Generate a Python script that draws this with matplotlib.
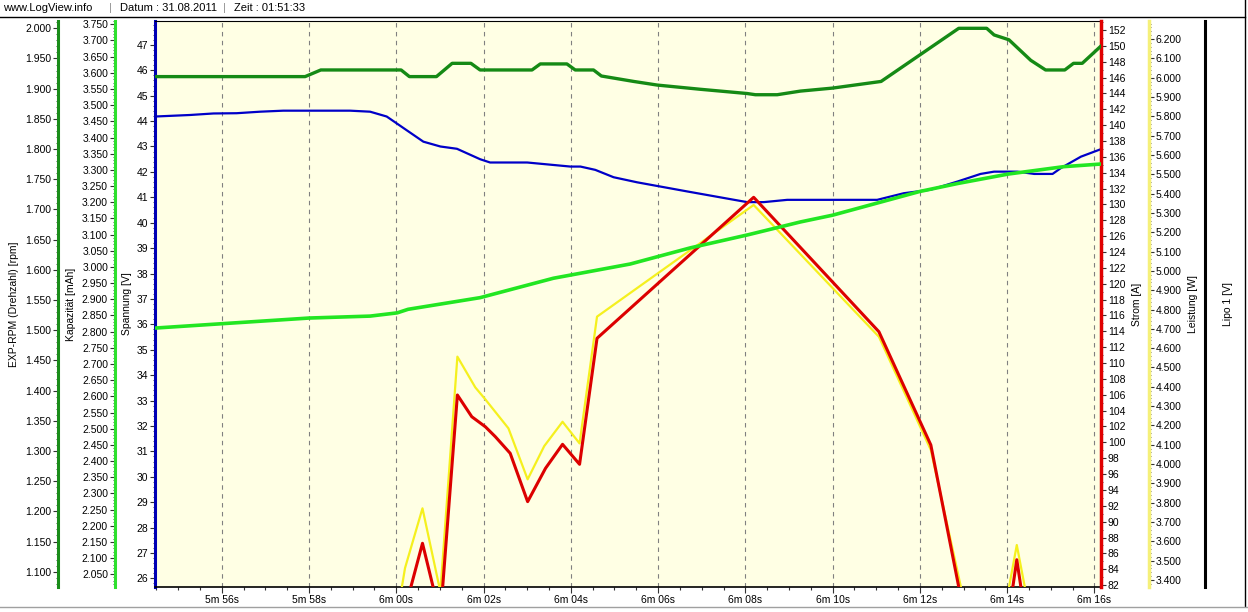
import matplotlib
matplotlib.use("Agg")
import matplotlib.pyplot as plt
from matplotlib.ticker import MultipleLocator, FuncFormatter
from matplotlib.lines import Line2D

plt.rcParams["font.family"] = ["Liberation Sans", "DejaVu Sans"]
plt.rcParams["font.size"] = 7.5

# Zeit in Sekunden (5m 56s = 356 s)
t_rpm = [354.47, 357.91, 358.27, 360.11, 360.30, 360.92, 361.28, 361.71, 361.92, 363.11,
         363.30, 363.91, 364.10, 364.52, 364.70, 365.44, 365.98, 366.97, 368.04, 368.23,
         368.73, 369.26, 370.00, 371.11, 372.89, 373.53, 373.70, 374.04, 374.54, 374.88,
         375.32, 375.52, 375.72, 376.14]
rpm = [1.920, 1.920, 1.931, 1.931, 1.920, 1.920, 1.942, 1.942, 1.931, 1.931,
       1.941, 1.941, 1.931, 1.931, 1.921, 1.912, 1.906, 1.899, 1.892, 1.890,
       1.890, 1.896, 1.901, 1.912, 2.000, 2.000, 1.989, 1.981, 1.947, 1.931,
       1.931, 1.942, 1.942, 1.970]

t_volt = [354.47, 355.27, 355.81, 356.34, 356.88, 357.41, 358.94, 359.40, 359.78, 360.17,
          360.62, 361.01, 361.39, 361.92, 362.15, 363.00, 363.99, 364.22, 364.56, 364.98,
          365.52, 366.67, 368.04, 368.42, 368.96, 371.02, 371.63, 372.25, 372.86, 373.39,
          373.70, 374.23, 374.62, 375.04, 375.23, 375.69, 376.14]
volt = [44.18, 44.24, 44.30, 44.31, 44.37, 44.41, 44.41, 44.37, 44.18, 43.72,
        43.19, 43.00, 42.91, 42.50, 42.37, 42.37, 42.21, 42.21, 42.08, 41.79,
        41.59, 41.23, 40.81, 40.81, 40.90, 40.90, 41.16, 41.30, 41.62, 41.92,
        42.01, 42.01, 41.92, 41.92, 42.15, 42.60, 42.89]

t_kap = [354.47, 358.00, 359.40, 360.02, 360.27, 361.92, 363.60, 365.36, 366.74, 368.05,
         369.26, 370.00, 371.99, 372.87, 374.02, 375.30, 376.14]
kap = [2.811, 2.842, 2.848, 2.858, 2.869, 2.905, 2.965, 3.009, 3.059, 3.099,
       3.139, 3.160, 3.233, 3.258, 3.287, 3.310, 3.318]

t_strom = [354.47, 359.86, 360.20, 360.60, 361.01, 361.40, 361.73, 362.04, 362.27, 362.61,
           363.01, 363.42, 363.81, 364.20, 364.60, 368.19, 371.06, 372.25, 373.05, 373.95,
           374.22, 374.50, 376.14]
strom = [60, 60, 79.0, 87.27, 78.0, 105.97, 103.23, 101.97, 100.71, 98.62,
         92.52, 96.73, 99.75, 97.23, 113.12, 130.90, 113.95, 99.67, 77.3, 75.0,
         85.2, 75.0, 70]

t_leist = [354.47, 359.86, 360.20, 360.60, 361.01, 361.40, 361.81, 362.04, 362.57, 363.01,
           363.39, 363.81, 364.20, 364.60, 368.19, 371.06, 372.25, 373.05, 373.95, 374.22,
           374.50, 376.14]
leist = [3.0, 3.0, 3.462, 3.771, 3.339, 4.556, 4.397, 4.335, 4.185, 3.921,
         4.093, 4.219, 4.107, 4.763, 5.341, 4.659, 4.073, 3.25, 3.25, 3.581,
         3.25, 3.2]

x_ticks = [356, 358, 360, 362, 364, 366, 368, 370, 372, 374, 376]


def fmt_time(v, pos):
    v = int(round(v))
    return f"{v // 60}m {v % 60:02d}s"


W, H = 1248, 612
fig = plt.figure(figsize=(W / 100, H / 100), dpi=100)
fig.patch.set_facecolor("white")
L, R, T, B = 155, 1101, 21, 587
ax = fig.add_axes([L / W, 1 - B / H, (R - L) / W, (B - T) / H])
ax.set_facecolor("#ffffe4")

tick_col = "#333333"


def style_y(a, major, minor, fmt):
    a.yaxis.set_major_locator(MultipleLocator(major))
    a.yaxis.set_minor_locator(MultipleLocator(minor))
    a.yaxis.set_major_formatter(FuncFormatter(lambda v, p: fmt.format(v)))
    a.tick_params(axis="y", which="major", length=3.5, width=0.8, color=tick_col, pad=1.5, labelsize=7.5)
    a.tick_params(axis="y", which="minor", length=1.5, width=0.6, color=tick_col)


def extra_axis(side, pos, color, lw=2.2):
    a = ax.twinx()
    for s in ["top", "bottom", "left", "right"]:
        a.spines[s].set_visible(False)
    a.spines[side].set_visible(True)
    a.spines[side].set_position(("axes", pos))
    a.spines[side].set_color(color)
    a.spines[side].set_linewidth(lw)
    a.yaxis.set_ticks_position(side)
    a.yaxis.set_label_position(side)
    return a


# Spannung (Hauptachse, blau)
ax.set_xlim(354.47, 376.15)
ax.set_ylim(25.66, 47.94)
ax.spines["right"].set_visible(False)
ax.spines["left"].set_color("#0000b4")
ax.spines["left"].set_linewidth(2.2)
ax.spines["top"].set_linewidth(0.8)
ax.spines["bottom"].set_linewidth(1.2)
style_y(ax, 1, 0.2, "{:.0f}")
ax.set_ylabel("Spannung [V]", va="center")
ax.yaxis.set_label_coords(-0.0296, 0.5)

ax.xaxis.set_minor_locator(MultipleLocator(0.5))
ax.set_xticks(x_ticks)
ax.xaxis.set_major_formatter(FuncFormatter(fmt_time))
ax.tick_params(axis="x", which="major", length=4, width=0.8, color=tick_col, pad=2, labelsize=7.5)
ax.tick_params(axis="x", which="minor", length=2.5, width=0.8, color=tick_col)
ax.grid(axis="x", which="major", linestyle=(0, (4, 4)), color="#808080", linewidth=0.8)

ax_lei = extra_axis("right", 1.0507, "#f5f07a", lw=2.5)
ax_lei.set_ylim(3.3638, 6.2932)
style_y(ax_lei, 0.1, 0.02, "{:.3f}")
ax_lei.set_ylabel("Leistung [W]", va="center")
ax_lei.yaxis.set_label_coords(1.0973, 0.5)

ax_str = extra_axis("right", 1.0, "#e00000", lw=2.5)
ax_str.set_ylim(81.76, 153.13)
style_y(ax_str, 2, 1, "{:.0f}")
ax_str.set_ylabel("Strom [A]", va="center")
ax_str.yaxis.set_label_coords(1.0381, 0.5)

ax_lipo = extra_axis("right", 1.1099, "black", lw=2.2)
ax_lipo.set_ylim(0, 1)
ax_lipo.set_yticks([])
ax_lipo.set_ylabel("Lipo 1 [V]", va="center")
ax_lipo.yaxis.set_label_coords(1.1342, 0.5)

ax_kap = extra_axis("left", -0.0423, "#2ee02e", lw=2.2)
ax_kap.set_ylim(2.0106, 3.7602)
style_y(ax_kap, 0.05, 0.01, "{:.3f}")
ax_kap.set_ylabel("Kapazität [mAh]", va="center")
ax_kap.yaxis.set_label_coords(-0.0888, 0.5)

ax_rpm = extra_axis("left", -0.1025, "#1a8c1a", lw=2.2)
ax_rpm.set_ylim(1.0747, 2.0121)
style_y(ax_rpm, 0.05, 0.01, "{:.3f}")
ax_rpm.set_ylabel("EXP-RPM (Drehzahl) [rpm]", va="center")
ax_rpm.yaxis.set_label_coords(-0.1490, 0.5)

# Kurven
ax.plot(t_volt, volt, color="#0000c8", lw=1.6)
ax_lei.plot(t_leist, leist, color="#f5f01e", lw=1.6)
ax_str.plot(t_strom, strom, color="#dc0000", lw=2.2)
ax_kap.plot(t_kap, kap, color="#22e622", lw=2.6)
ax_rpm.plot(t_rpm, rpm, color="#158a15", lw=2.4)

# Kopfzeile
hy = 1 - 8 / H
fig.text(3 / W, hy, "www.LogView.info", fontsize=8, va="center")
fig.text(109 / W, hy, "|", fontsize=8, va="center", color="#909090")
fig.text(120 / W, hy, "Datum : 31.08.2011", fontsize=8, va="center")
fig.text(223 / W, hy, "|", fontsize=8, va="center", color="#909090")
fig.text(234 / W, hy, "Zeit : 01:51:33", fontsize=8, va="center")
fig.add_artist(Line2D([0, 1245 / W], [1 - 16.5 / H] * 2, color="black", lw=1))
fig.add_artist(Line2D([1245 / W] * 2, [1 - 606 / H, 1], color="black", lw=1))
fig.add_artist(Line2D([0, 1], [1 - 606.5 / H] * 2, color="#a0a0a0", lw=1))

fig.savefig("out.png", dpi=100)
